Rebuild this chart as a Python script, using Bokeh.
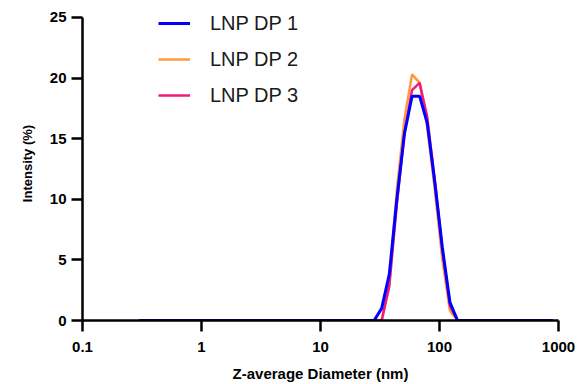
from bokeh.plotting import figure
from bokeh.models import ColumnDataSource, FixedTicker, Legend, LegendItem, Range1d
from bokeh.embed import file_html
from bokeh.resources import INLINE

# ---- data ----
diameter_nm = [0.3, 28.21, 32.67, 37.84, 43.82, 50.75, 58.77, 68.06, 78.82,
               91.28, 105.7, 122.4, 141.8, 890.0]
dp1 = [0.0, 0.0, 1.0, 3.8, 10.0, 15.4, 18.5, 18.5, 16.3, 11.4, 6.0, 1.5, 0.0, 0.0]
dp2 = [0.0, 0.0, 0.0, 3.0, 10.8, 16.6, 20.3, 19.6, 16.0, 10.8, 5.0, 0.8, 0.0, 0.0]
dp3 = [0.0, 0.0, 0.0, 2.8, 9.6, 15.5, 19.0, 19.6, 16.8, 11.6, 5.8, 1.2, 0.0, 0.0]
series_names = ["LNP DP 1", "LNP DP 2", "LNP DP 3"]
series_colors = ["#0000FF", "#FF9A3C", "#F2197C"]

x_ticks = [0.1, 1, 10, 100, 1000]
x_tick_labels = ["0.1", "1", "10", "100", "1000"]
y_ticks = [0, 5, 10, 15, 20, 25]
y_axis_max = 25

src = ColumnDataSource(data=dict(x=diameter_nm, dp1=dp1, dp2=dp2, dp3=dp3))

p = figure(width=577, height=384, x_axis_type="log",
           x_range=Range1d(0.1, 1000), y_range=Range1d(0, 25.9),
           output_backend="svg", toolbar_location=None,
           min_border_left=82, min_border_right=19,
           min_border_top=6, min_border_bottom=64)
p.outline_line_color = None
p.xgrid.visible = False
p.ygrid.visible = False
p.background_fill_color = "white"
p.border_fill_color = "white"

# draw order: orange, pink, blue on top
r2 = p.line("x", "dp2", source=src, line_color=series_colors[1], line_width=2.5)
r3 = p.line("x", "dp3", source=src, line_color=series_colors[2], line_width=2.5)
r1 = p.line("x", "dp1", source=src, line_color=series_colors[0], line_width=3)

legend = Legend(items=[LegendItem(label=series_names[0], renderers=[r1]),
                       LegendItem(label=series_names[1], renderers=[r2]),
                       LegendItem(label=series_names[2], renderers=[r3])],
                location=(76, 212))
legend.border_line_color = None
legend.background_fill_alpha = 0
legend.padding = 0
legend.margin = 0
legend.glyph_width = 32
legend.glyph_height = 26
legend.label_height = 26
legend.spacing = 10
legend.label_standoff = 20
legend.label_text_font = "Liberation Sans"
legend.label_text_font_size = "20px"
legend.label_text_color = "#1a1a1a"
p.add_layout(legend, "center")

font = "Liberation Sans"
for ax in (p.xaxis[0], p.yaxis[0]):
    ax.axis_line_width = 2.5
    ax.axis_line_color = "black"
    ax.major_tick_line_width = 2.5
    ax.major_tick_line_color = "black"
    ax.major_tick_in = 0
    ax.major_tick_out = 11
    ax.minor_tick_line_color = None
    ax.major_label_text_font = font
    ax.major_label_text_font_style = "bold"
    ax.major_label_text_font_size = "15px"
    ax.major_label_text_color = "black"
    ax.axis_label_text_font = font
    ax.axis_label_text_font_style = "bold"
    ax.axis_label_text_color = "black"

p.xaxis.ticker = FixedTicker(ticks=x_ticks)
p.xaxis.major_label_overrides = {t: l for t, l in zip(x_ticks, x_tick_labels)}
p.xaxis.axis_label = "Z-average Diameter (nm)"
p.xaxis.axis_label_text_font_size = "15px"
p.xaxis.major_label_standoff = 10
p.xaxis.axis_label_standoff = 10

p.yaxis.ticker = FixedTicker(ticks=y_ticks)
p.yaxis.bounds = (0, y_axis_max)
p.yaxis.axis_label = "Intensity (%)"
p.yaxis.axis_label_text_font_size = "13px"
p.yaxis.major_label_standoff = 5
p.yaxis.axis_label_standoff = 12

open("out.html", "w").write(file_html(p, INLINE))
